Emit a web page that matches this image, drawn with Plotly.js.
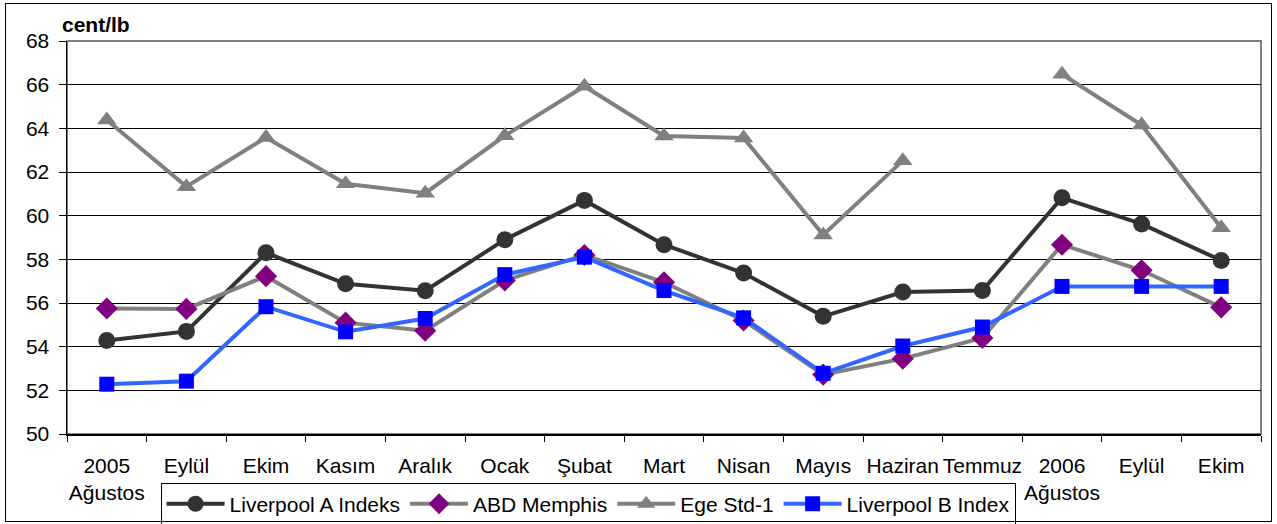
<!DOCTYPE html>
<html>
<head>
<meta charset="utf-8">
<script src="https://cdn.plot.ly/plotly-3.0.1.min.js"></script>
<style>
html,body{margin:0;padding:0;background:#fff;}
#chart{width:1277px;height:524px;}
#frame{position:absolute;left:5px;top:3px;width:1265px;height:517px;border:1px solid #000;pointer-events:none;}
</style>
</head>
<body>
<div id="chart"></div>
<div id="frame"></div>
<script>
const categories = ["2005<br>Ağustos","Eylül","Ekim","Kasım","Aralık","Ocak","Şubat","Mart","Nisan","Mayıs","Haziran","Temmuz","2006<br>Ağustos","Eylül\u200b","Ekim\u200b"];
const liverpoolA = [54.28, 54.7, 58.3, 56.88, 56.56, 58.9, 60.7, 58.67, 57.37, 55.39, 56.5, 56.57, 60.82, 59.62, 57.95];
const abdMemphis = [55.75, 55.73, 57.23, 55.1, 54.73, 57.03, 58.2, 56.95, 55.2, 52.72, 53.45, 54.4, 58.67, 57.5, 55.8];
const egeStd1 = [64.38, 61.33, 63.58, 61.46, 61.03, 63.66, 65.93, 63.65, 63.56, 59.12, 62.52, null, 66.48, 64.15, 59.45];
const liverpoolB = [52.28, 52.42, 55.83, 54.68, 55.29, 57.3, 58.1, 56.57, 55.32, 52.78, 54.03, 54.9, 56.76, 56.76, 56.76];
const yTicks = [50,52,54,56,58,60,62,64,66,68];

const font = {family: "Liberation Sans, Arial, sans-serif", size: 21, color: "#000"};

const traces = [
  {name: "Liverpool A Indeks", x: categories, y: liverpoolA, type: "scatter", mode: "lines+markers",
   line: {color: "#333333", width: 4}, marker: {symbol: "circle", size: 17, color: "#333333"}},
  {name: "ABD Memphis", x: categories, y: abdMemphis, type: "scatter", mode: "lines+markers",
   line: {color: "#808080", width: 4}, marker: {symbol: "diamond", size: 17, color: "#800080"}},
  {name: "Ege Std-1", x: categories, y: egeStd1, type: "scatter", mode: "lines+markers", connectgaps: false,
   line: {color: "#808080", width: 4}, marker: {symbol: "triangle-up", size: 17, color: "#808080"}},
  {name: "Liverpool B Index", x: categories, y: liverpoolB, type: "scatter", mode: "lines+markers",
   line: {color: "#3366FF", width: 4}, marker: {symbol: "square", size: 15, color: "#0000FF"}}
];

const layout = {
  width: 1277, height: 524,
  margin: {l: 67, r: 16, t: 41, b: 90},
  paper_bgcolor: "#fff", plot_bgcolor: "#fff",
  font: font,
  showlegend: true,
  legend: {orientation: "h", xref: "container", yref: "container",
           x: 0.4605, xanchor: "center", y: 0.079, yanchor: "top",
           bordercolor: "#000", borderwidth: 1, font: font, itemwidth: 58, tracegroupgap: 0,
           bgcolor: "#fff"},
  xaxis: {type: "category", tickson: "boundaries", ticks: "outside", ticklen: 6, tickcolor: "#000",
          showgrid: false, showline: true, linecolor: "#000", linewidth: 1.5, tickfont: font,
          tickangle: 0, ticklabelstandoff: 12, automargin: false,
          range: [-0.5, 14.5], fixedrange: true, zeroline: false},
  yaxis: {range: [50, 68], tickvals: yTicks, ticktext: yTicks.map(String), ticks: "outside", ticklen: 7,
          tickcolor: "#000", showgrid: true, gridcolor: "#000", gridwidth: 1, showline: true,
          ticklabelstandoff: 5, automargin: false,
          linecolor: "#000", linewidth: 1.5, tickfont: font, zeroline: false, fixedrange: true},
  shapes: [
    {type: "rect", xref: "paper", yref: "paper", x0: 0, x1: 1, y0: 0, y1: 1,
     line: {color: "#808080", width: 2}, layer: "below"}
  ],
  annotations: [
    {text: "<b>cent/lb</b>", xref: "paper", yref: "paper", x: -0.006, xanchor: "left",
     y: 1.043, yanchor: "middle", showarrow: false, font: font}
  ]
};

Plotly.newPlot("chart", traces, layout, {displayModeBar: false, staticPlot: true});
</script>
</body>
</html>
